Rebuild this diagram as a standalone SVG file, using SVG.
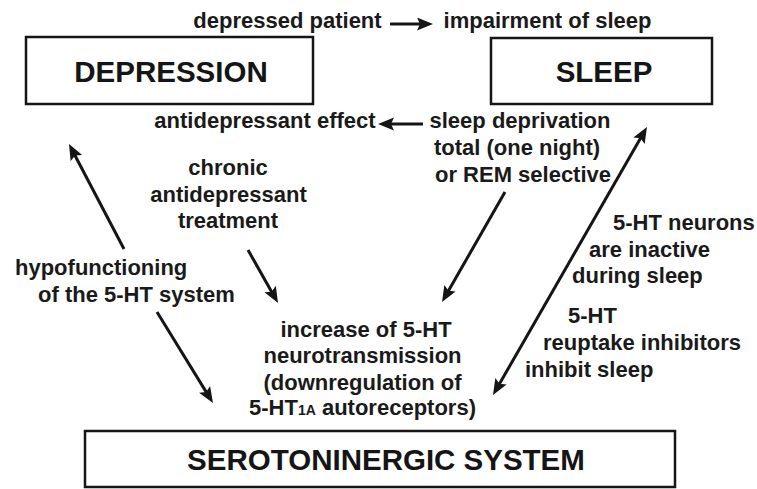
<svg xmlns="http://www.w3.org/2000/svg" width="757" height="489" viewBox="0 0 757 489">
<style>
.box{fill:#fff;stroke:#151515;stroke-width:2.5}
.title{font-family:"Liberation Sans",Arial,sans-serif;font-weight:bold;font-size:29.5px;fill:#151515;text-anchor:middle}
.lbl{font-family:"Liberation Sans",Arial,sans-serif;font-weight:bold;font-size:22px;fill:#1a1a1a}
.c{text-anchor:middle}
.conn{fill:none;stroke:#151515;stroke-width:3}
</style>
<defs>
<marker id="ah" markerUnits="userSpaceOnUse" markerWidth="17" markerHeight="14" refX="5" refY="6.5" orient="auto-start-reverse" viewBox="0 0 17 14">
<path d="M0,0 L16,6.5 L0,13 L3,6.5 z" fill="#151515"/>
</marker>
</defs>
<rect width="757" height="489" fill="#fff"/>

<g id="depression">
<rect class="box" x="26" y="37" width="287" height="67"/>
<text class="title" x="171" y="82">DEPRESSION</text>
</g>
<g id="sleep">
<rect class="box" x="491" y="38" width="221" height="66"/>
<text class="title" x="604" y="82">SLEEP</text>
</g>
<g id="serotoninergic">
<rect class="box" x="85" y="431" width="590" height="56"/>
<text class="title" x="386" y="470">SEROTONINERGIC SYSTEM</text>
</g>

<g id="labels">
<text class="lbl c" x="287.5" y="28">depressed patient</text>
<text class="lbl c" x="547.5" y="28">impairment of sleep</text>
<text class="lbl c" x="265" y="128">antidepressant effect</text>
<text class="lbl c" x="520" y="128">sleep deprivation</text>
<text class="lbl c" x="517" y="155">total (one night)</text>
<text class="lbl c" x="523" y="182">or REM selective</text>
<text class="lbl c" x="228" y="175">chronic</text>
<text class="lbl c" x="228.5" y="202">antidepressant</text>
<text class="lbl c" x="228" y="228">treatment</text>
<text class="lbl" x="15" y="275">hypofunctioning</text>
<text class="lbl" x="38" y="302">of the 5-HT system</text>
<text class="lbl c" x="366" y="337">increase of 5-HT</text>
<text class="lbl c" x="362.5" y="363">neurotransmission</text>
<text class="lbl c" x="362.5" y="390">(downregulation of</text>
<text class="lbl c" x="362.5" y="415">5-HT<tspan font-size="14px">1A</tspan> autoreceptors)</text>
<text class="lbl" x="613" y="230">5-HT neurons</text>
<text class="lbl" x="589" y="257">are inactive</text>
<text class="lbl" x="572" y="283">during sleep</text>
<text class="lbl" x="568" y="323">5-HT</text>
<text class="lbl" x="543" y="350">reuptake inhibitors</text>
<text class="lbl" x="525" y="377">inhibit sleep</text>
</g>

<g id="connectors">
<path class="conn" d="M390,24 L422,24" marker-end="url(#ah)"/>
<path class="conn" d="M423,124 L389,124" marker-end="url(#ah)"/>
<path class="conn" d="M124,249 L74.1,153.7" marker-end="url(#ah)"/>
<path class="conn" d="M157,312 L207.2,393.6" marker-end="url(#ah)"/>
<path class="conn" d="M248,250 L272.6,293.4" marker-end="url(#ah)"/>
<path class="conn" d="M505,192 L447.5,292.5" marker-end="url(#ah)"/>
<path class="conn" d="M498.5,385.5 L641.5,136.5" marker-start="url(#ah)" marker-end="url(#ah)"/>
</g>
</svg>
